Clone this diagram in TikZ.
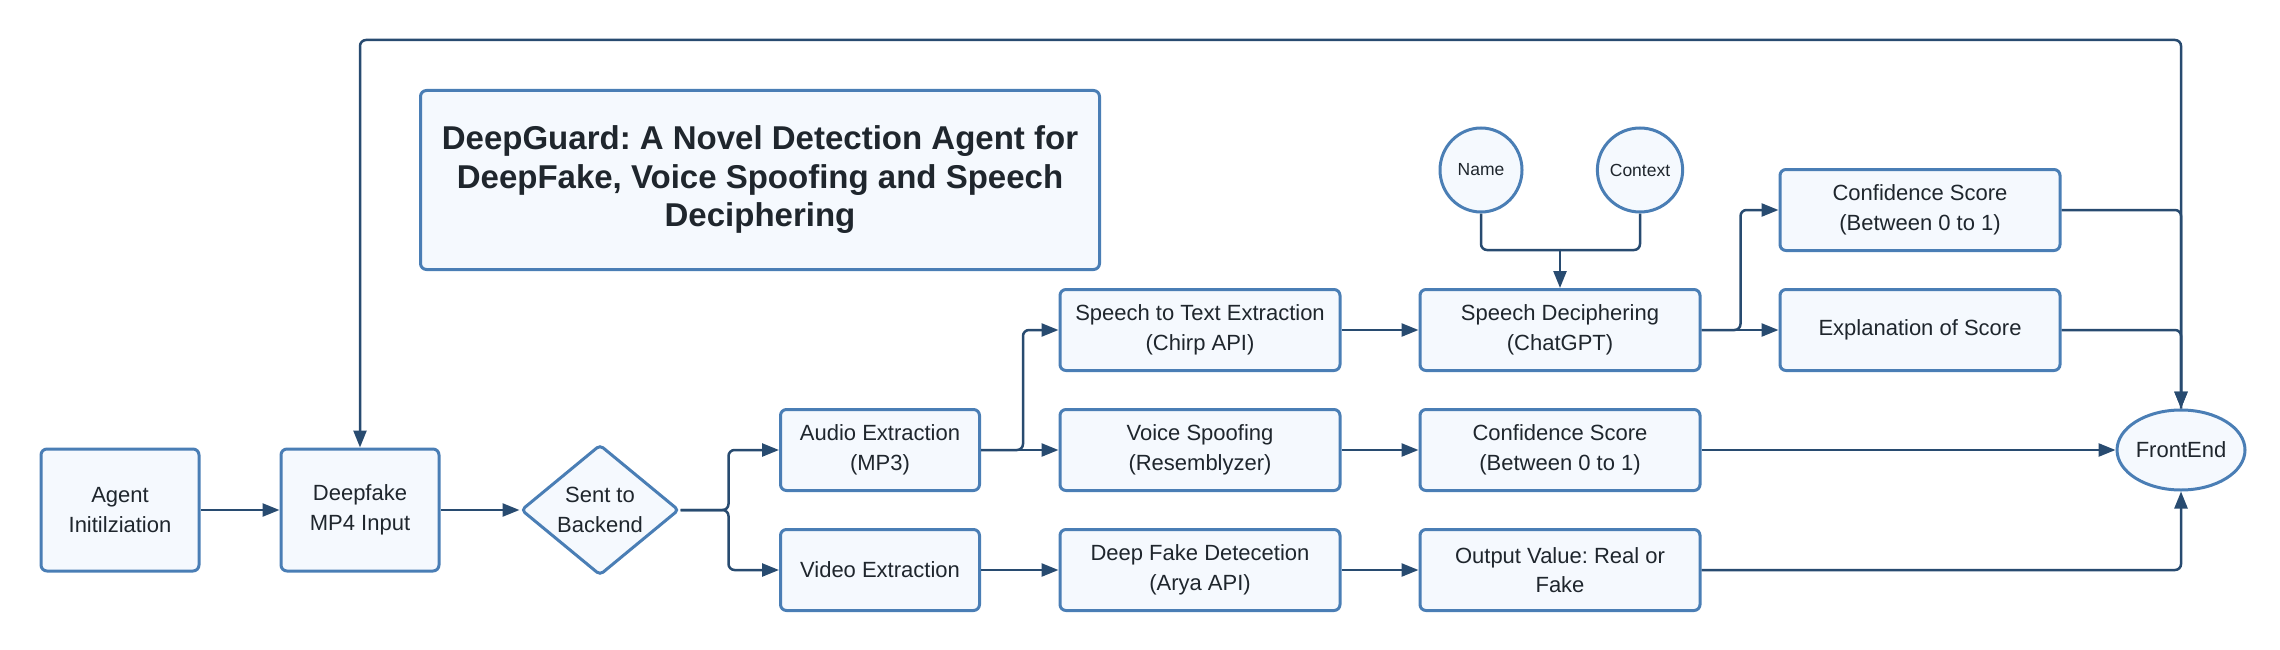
\documentclass[tikz,border=0pt]{standalone}
\usepackage{fontspec}
\setmainfont{Liberation Sans}
\usetikzlibrary{shapes.geometric,arrows.meta,calc}
\definecolor{bord}{HTML}{4A7EB5}
\definecolor{fillc}{HTML}{F5F9FE}
\definecolor{connc}{HTML}{284B70}
\definecolor{txt}{HTML}{1F262D}
\frenchspacing
\begin{document}
\begin{tikzpicture}[x=1pt,y=-1pt,
  box/.style={draw=bord, line width=3pt, fill=fillc, rounded corners=6pt,
    minimum width=#1, minimum height=81pt, inner sep=0pt, align=center,
    text=txt, font=\fontsize{22}{29.5}\selectfont},
  box/.default=280pt,
  oval/.style={draw=bord, line width=3pt, fill=fillc, ellipse, inner sep=0pt,
    align=center, text=txt},
  arr/.style={draw=connc, line width=2.5pt, rounded corners=6pt,
    -{Triangle[length=17pt,width=13pt]}},
  ln/.style={draw=connc, line width=2.5pt, rounded corners=6pt}
]
\useasboundingbox (0,0) rectangle (2280,650);

% title
\node[box, minimum width=679pt, minimum height=179pt,
  font=\fontsize{33}{38.5}\selectfont\bfseries] (title) at (760,180)
  {DeepGuard: A Novel Detection Agent for\\DeepFake, Voice Spoofing and Speech\\Deciphering};

% left chain
\node[box=158pt, minimum height=122pt] (agent) at (120,510) {Agent\\Initilziation};
\node[box=158pt, minimum height=122pt] (mp4) at (360,510) {Deepfake\\MP4 Input};
\node[draw=bord, line width=3pt, fill=fillc, diamond, rounded corners=4pt,
  minimum width=158pt, minimum height=120pt, inner sep=0pt, align=center,
  text=txt, font=\fontsize{22}{29.5}\selectfont] (send) at (600,510) {Sent to\\Backend};

% extraction
\node[box=199pt] (audio) at (880,450) {Audio Extraction\\(MP3)};
\node[box=199pt] (video) at (880,570) {Video Extraction};

% processing
\node[box] (stt) at (1200,330) {Speech to Text Extraction\\(Chirp API)};
\node[box] (voice) at (1200,450) {Voice Spoofing\\(Resemblyzer)};
\node[box] (dfd) at (1200,570) {Deep Fake Detecetion\\(Arya API)};

\node[box] (deci) at (1560,330) {Speech Deciphering\\(ChatGPT)};
\node[box] (conf2) at (1560,450) {Confidence Score\\(Between 0 to 1)};
\node[box] (outv) at (1560,570) {Output Value: Real or\\Fake};

\node[oval, minimum width=82pt, minimum height=84pt, font=\fontsize{17.5}{21}\selectfont] (name) at (1481,170) {Name};
\node[oval, minimum width=82pt, minimum height=84pt, font=\fontsize{17.5}{21}\selectfont] (ctx) at (1640,170) {Context};

\node[box] (conf1) at (1920,210) {Confidence Score\\(Between 0 to 1)};
\node[box] (expl) at (1920,330) {Explanation of Score};

\node[oval, minimum width=118pt, minimum height=80pt, font=\fontsize{22}{26}\selectfont] (front) at (2181,450) {FrontEnd};

% connectors
\coordinate (j) at (1560,250);
\coordinate (tl) at (360,40);

\draw[arr] (agent.east) -- (mp4.west);
\draw[arr] (mp4.east) -- (send.west);
\draw[arr] (send.east) -- ++(48,0) |- (audio.west);
\draw[arr] (send.east) -- ++(48,0) |- (video.west);
\draw[arr] (audio.east) -- ++(42,0) |- (stt.west);
\draw[arr] (audio.east) -- (voice.west);
\draw[arr] (video.east) -- (dfd.west);
\draw[arr] (stt.east) -- (deci.west);
\draw[arr] (voice.east) -- (conf2.west);
\draw[arr] (dfd.east) -- (outv.west);
\draw[ln] (name.south) |- (j);
\draw[ln] (ctx.south) |- (j);
\draw[arr] (j) -- (deci.north);
\draw[arr] (deci.east) -- ++(39,0) |- (conf1.west);
\draw[arr] (deci.east) -- (expl.west);
\draw[arr] (conf1.east) -| (front.north);
\draw[arr] (expl.east) -| (front.north);
\draw[arr] (conf2.east) -- (front.west);
\draw[arr] (outv.east) -| (front.south);
\draw[arr] (front.north) |- (tl) -- (mp4.north);
\end{tikzpicture}
\end{document}
